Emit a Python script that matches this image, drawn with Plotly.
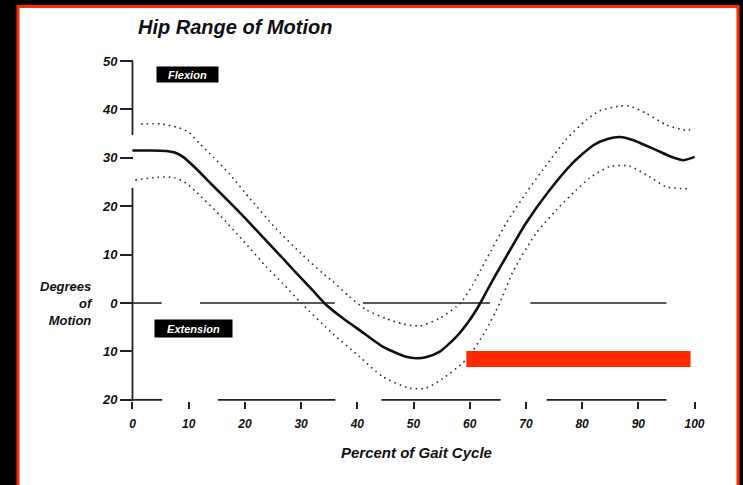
import plotly.graph_objects as go

# ---- data ----
mean_x = [0, 3, 6, 7.5, 9, 11.3, 14, 17.3, 20, 22, 25, 29, 32, 34.5, 37.5, 40.4, 44.5, 48.7, 50.5,
          52.2, 54.6, 57.6, 60, 61.7, 64.1, 66.5, 70, 74.2, 78.3, 82, 84.5, 86.7, 89, 93.2, 96.1, 98, 100]
mean_y = [31.5, 31.5, 31.4, 31.1, 30.2, 27.8, 24.6, 20.8, 17.6, 15.1, 11.4, 6.4, 2.7, -0.4, -3.2, -5.6, -9.0, -11.1, -11.4,
          -11.2, -10.1, -7.0, -3.5, -0.4, 4.75, 9.6, 16.5, 23.3, 28.9, 32.6, 33.9, 34.3, 33.7, 31.6, 30.1, 29.5, 30.2]

upper_x = [1.5, 5, 8, 10, 11.9, 14.5, 17.3, 21.1, 25.6, 30.3, 33.8, 35.6, 38.6, 41.6, 45.1, 48, 51.1, 54.6,
           57.6, 58.8, 60.5, 62.9, 66.5, 70, 73, 77.1, 80.7, 83.1, 86.7, 88.4, 91.4, 95, 98.5, 100]
upper_y = [37.0, 37.0, 36.3, 35.3, 33.0, 30.0, 26.6, 21.3, 15.3, 9.9, 6.2, 4.5, 1.3, -1.4, -3.2, -4.3, -4.75, -3.2,
           -0.8, 0.6, 3.7, 8.9, 16.5, 22.7, 27.5, 33.7, 37.8, 39.7, 40.7, 40.7, 39.2, 36.8, 35.7, 36.1]

lower_x = [0.5, 4.5, 7.5, 9.5, 11.3, 15.5, 19.6, 23.8, 26.7, 30, 35.6, 40.4, 44.5, 49.3, 52.2, 55.2, 59.3,
           62.9, 65.3, 67.7, 71.8, 75.4, 78.9, 81.3, 84.9, 88.4, 92, 95, 98.8]
lower_y = [25.4, 26.0, 25.9, 24.8, 23.0, 18.2, 13.0, 7.5, 4.1, 0.0, -6.3, -11.1, -15.2, -17.6, -17.6, -15.6, -11.8,
           -5.6, -0.1, 6.5, 14.4, 19.2, 23.3, 25.8, 28.2, 28.3, 26.1, 24.0, 23.6]

x_ticks = [0, 10, 20, 30, 40, 50, 60, 70, 80, 90, 100]
x_tick_labels = ["0", "10", "20", "30", "40", "50", "60", "70", "80", "90", "100"]
y_ticks = [-20, -10, 0, 10, 20, 30, 40, 50]
y_tick_labels = ["20", "10", "0", "10", "20", "30", "40", "50"]

# broken axis / reference-line segments (data units)
x_axis_segments = [(0, 5.3), (15.2, 36.1), (44.3, 65.5), (73.7, 95.0)]
y_axis_segments = [(50, 34.7), (23.8, -20)]
zero_segments = [(0, 5.2), (12.0, 36.0), (41.0, 63.6), (70.8, 95.0)]
redact_x = (59.4, 99.3)
redact_y = (-9.9, -13.2)

# ---- layout geometry ----
W, H = 743, 485
ML, MR, MT, MB = 110, 26, 51, 75
PW, PH = W - ML - MR, H - MT - MB


def px_x(p):
    return (p - ML) / PW


def px_y(p):
    return (H - MB - p) / PH


FONT = "Liberation Sans"
AX = "#222222"

fig = go.Figure()


def seg_trace(pairs, horizontal_at=None, vertical_at=None, width=1.8):
    xs, ys = [], []
    for a, b in pairs:
        if horizontal_at is not None:
            xs += [a, b, None]
            ys += [horizontal_at, horizontal_at, None]
        else:
            xs += [vertical_at, vertical_at, None]
            ys += [a, b, None]
    return go.Scatter(x=xs, y=ys, mode="lines", line=dict(color=AX, width=width),
                      hoverinfo="skip", showlegend=False)


fig.add_trace(seg_trace(x_axis_segments, horizontal_at=-20))
fig.add_trace(seg_trace(y_axis_segments, vertical_at=0))
fig.add_trace(seg_trace(zero_segments, horizontal_at=0, width=1.6))

fig.add_trace(go.Scatter(x=upper_x, y=upper_y, mode="lines",
                         line=dict(color="#333333", width=1.6, dash="1.6px,4px", shape="spline", smoothing=0.6),
                         showlegend=False))
fig.add_trace(go.Scatter(x=lower_x, y=lower_y, mode="lines",
                         line=dict(color="#333333", width=1.6, dash="1.6px,4px", shape="spline", smoothing=0.6),
                         showlegend=False))
fig.add_trace(go.Scatter(x=mean_x, y=mean_y, mode="lines",
                         line=dict(color="#111111", width=2.6, shape="spline", smoothing=0.6),
                         showlegend=False))

fig.update_xaxes(range=[-4, 104], showgrid=False, zeroline=False, showline=False,
                 tickmode="array", tickvals=x_ticks, ticktext=x_tick_labels,
                 ticks="outside", ticklen=7, tickwidth=1.6, tickcolor=AX, ticklabelstandoff=5,
                 tickfont=dict(family=FONT, size=12, color="#111111", weight="bold", style="italic"),
                 anchor="free", position=px_y(401))
fig.update_yaxes(range=[-22.1, 52.07], showgrid=False, zeroline=False, showline=False,
                 tickmode="array", tickvals=y_ticks, ticktext=y_tick_labels,
                 ticks="outside", ticklen=13, tickwidth=1.6, tickcolor=AX,
                 tickfont=dict(family=FONT, size=13, color="#111111", weight="bold", style="italic"),
                 anchor="free", position=px_x(133))

shapes = [
    dict(type="rect", xref="paper", yref="paper", x0=px_x(18), x1=px_x(738), y0=px_y(495), y1=px_y(6.5),
         fillcolor="white", line=dict(color="#ff2a00", width=3), layer="below"),
    dict(type="rect", xref="x", yref="y", x0=redact_x[0], x1=redact_x[1], y0=redact_y[0], y1=redact_y[1],
         fillcolor="#ff2a00", line=dict(width=0), layer="above"),
]

lab = dict(family=FONT, color="#111111", weight="bold", style="italic")
annotations = [
    dict(text="Hip Range of Motion", xref="paper", yref="paper", x=px_x(136), y=px_y(27),
         xanchor="left", yanchor="middle", showarrow=False, font=dict(size=20, **lab)),
    dict(text="Degrees<br>of<br>Motion", xref="paper", yref="paper", x=px_x(95), y=px_y(303),
         xanchor="right", yanchor="middle", align="right", showarrow=False, font=dict(size=13, **lab)),
    dict(text="Percent of Gait Cycle", xref="paper", yref="paper", x=px_x(416.5), y=px_y(452),
         xanchor="center", yanchor="middle", showarrow=False, font=dict(size=15, **lab)),
    dict(text="Flexion", xref="x", yref="y", x=9.7, y=47.3, showarrow=False,
         bgcolor="black", width=57, height=11, borderpad=2,
         font=dict(family=FONT, size=11, color="white", weight="bold", style="italic")),
    dict(text="Extension", xref="x", yref="y", x=10.9, y=-5.2, showarrow=False,
         bgcolor="black", width=73, height=13, borderpad=2,
         font=dict(family=FONT, size=11, color="white", weight="bold", style="italic")),
]

fig.update_layout(width=W, height=H, margin=dict(l=ML, r=MR, t=MT, b=MB),
                  paper_bgcolor="black", plot_bgcolor="rgba(0,0,0,0)",
                  shapes=shapes, annotations=annotations, showlegend=False)

fig.write_html("out.html", config={"displayModeBar": False},
               post_script="document.body.style.margin='0';document.body.style.background='black';")
